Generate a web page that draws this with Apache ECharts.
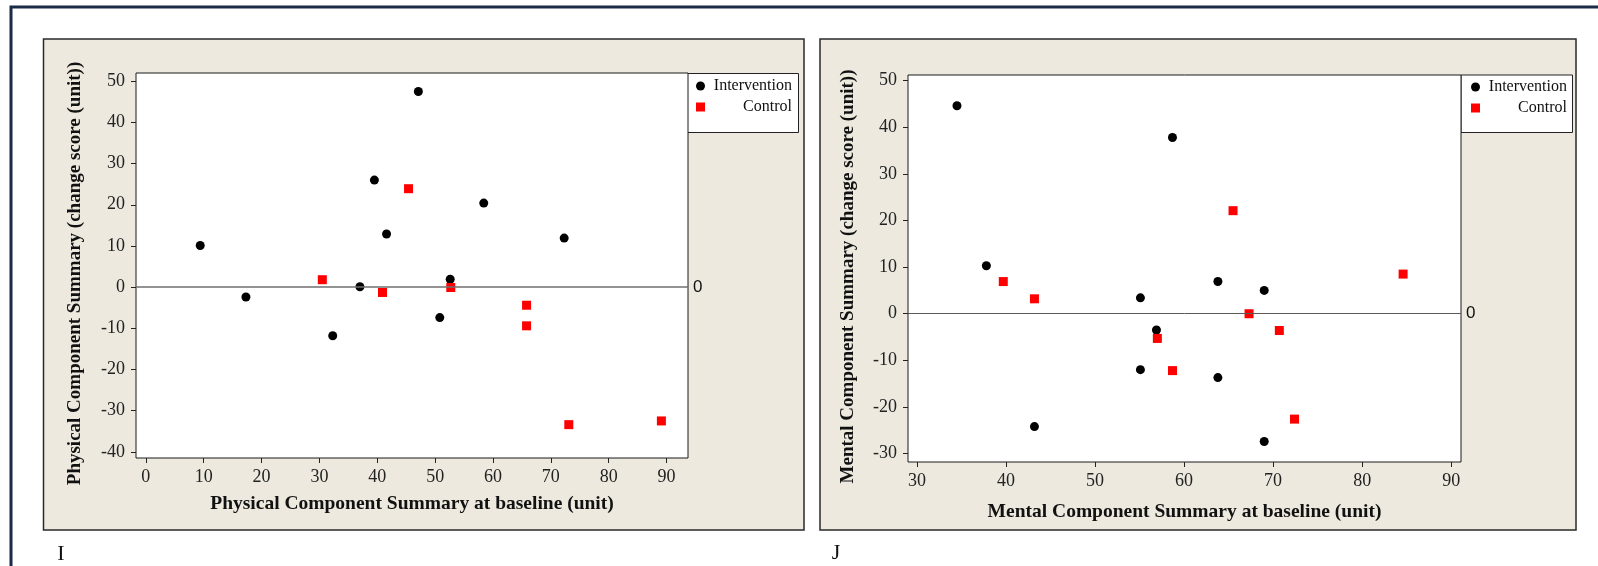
<!DOCTYPE html>
<html>
<head>
<meta charset="utf-8">
<script src="https://cdn.jsdelivr.net/npm/echarts@6/dist/echarts.min.js"></script>
<style>
html,body{margin:0;padding:0;background:#fff;}
#chart{width:1598px;height:566px;}
</style>
</head>
<body>
<div id="chart"></div>
<script>
// ---- Data ----
const seriesNames = ['Intervention', 'Control'];

// Panel I: Physical Component Summary
const physIntX = [9.4, 17.3, 32.3, 37.0, 39.5, 41.6, 47.1, 50.8, 52.6, 58.4, 72.3];
const physIntY = [10.1, -2.4, -11.8, 0.1, 26.0, 12.9, 47.5, -7.4, 1.9, 20.4, 11.9];
const physCtlX = [30.5, 40.9, 45.4, 52.7, 65.8, 65.8, 73.1, 89.1];
const physCtlY = [1.8, -1.3, 23.9, -0.1, -4.4, -9.4, -33.4, -32.5];

// Panel J: Mental Component Summary
const mentIntX = [34.5, 37.8, 43.2, 55.1, 55.1, 56.9, 58.7, 63.8, 63.8, 69.0, 69.0];
const mentIntY = [44.6, 10.3, -24.2, 3.4, -12.0, -3.5, 37.8, 6.9, -13.7, 5.0, -27.4];
const mentCtlX = [39.7, 43.2, 57.0, 58.7, 65.5, 67.3, 70.7, 72.4, 84.6];
const mentCtlY = [6.9, 3.2, -5.3, -12.2, 22.1, 0.0, -3.6, -22.6, 8.5];

// Tick labels
const physXTicks = [0, 10, 20, 30, 40, 50, 60, 70, 80, 90];
const physYTicks = [-40, -30, -20, -10, 0, 10, 20, 30, 40, 50];
const mentXTicks = [30, 40, 50, 60, 70, 80, 90];
const mentYTicks = [-30, -20, -10, 0, 10, 20, 30, 40, 50];

// Axis ranges
const physXRange = [-1.7, 93.7];
const physYRange = [-41.5, 52.0];
const mentXRange = [29.0, 91.1];
const mentYRange = [-31.8, 51.2];

// Titles
const physXTitle = 'Physical Component Summary at baseline (unit)';
const physYTitle = 'Physical Component Summary (change score (unit))';
const mentXTitle = 'Mental Component Summary at baseline (unit)';
const mentYTitle = 'Mental Component Summary (change score (unit))';
const panelLabels = ['I', 'J'];
const refValue = 0;

// ---- helpers ----
const SERIF = '"Liberation Serif", "Times New Roman", serif';
const SANS = '"Liberation Sans", Arial, sans-serif';
function zip(xs, ys) { return xs.map((x, i) => [x, ys[i]]); }

function xAxisCfg(idx, range, ticks, title, gap, margin) {
  return {
    type: 'value', gridIndex: idx, min: range[0], max: range[1],
    axisLine: { show: false, onZero: false },
    splitLine: { show: false },
    axisTick: { show: true, length: 5, customValues: ticks, lineStyle: { color: '#222', width: 1 } },
    axisLabel: { customValues: ticks, margin: margin, fontFamily: SERIF, fontSize: 18, color: '#222' },
    name: title, nameLocation: 'middle', nameGap: gap,
    nameTextStyle: { fontFamily: SERIF, fontWeight: 'bold', fontSize: 19.5, color: '#111' }
  };
}
function yAxisCfg(idx, range, ticks, title, gap) {
  return {
    type: 'value', gridIndex: idx, min: range[0], max: range[1],
    axisLine: { show: false, onZero: false },
    splitLine: { show: false },
    axisTick: { show: true, length: 5, customValues: ticks, lineStyle: { color: '#222', width: 1 } },
    axisLabel: { customValues: ticks, margin: 11, fontFamily: SERIF, fontSize: 18, color: '#222' },
    name: title, nameLocation: 'middle', nameGap: gap,
    nameTextStyle: { fontFamily: SERIF, fontWeight: 'bold', fontSize: 19, color: '#111', padding: [0, 16, 0, 0] }
  };
}
function legendCfg(left, top) {
  return {
    orient: 'vertical', left: left, top: top, padding: 0,
    itemWidth: 9, itemHeight: 9, itemGap: 5, selectedMode: false,
    data: [{ name: seriesNames[0], icon: 'circle' }, { name: seriesNames[1], icon: 'rect' }],
    formatter: n => '{t|' + n + '}',
    textStyle: {
      color: '#111', fontFamily: SERIF, fontSize: 16, lineHeight: 16,
      rich: { t: { width: 82, align: 'right', fontFamily: SERIF, fontSize: 16, lineHeight: 16, color: '#111' } }
    }
  };
}
function refLine(color, width) {
  return {
    silent: true, symbol: 'none', animation: false,
    lineStyle: { color: color, width: width, type: 'solid' },
    label: { show: true, position: 'end', distance: 5, formatter: String(refValue), fontFamily: SANS, fontSize: 17, color: '#111' },
    data: [{ yAxis: refValue }]
  };
}

const chart = echarts.init(document.getElementById('chart'), null, { renderer: 'canvas' });
const option = {
  backgroundColor: '#ffffff',
  animation: false,
  graphic: {
    elements: [
      { type: 'rect', z: -10, shape: { x: 11, y: 7, width: 1700, height: 700 },
        style: { fill: 'none', stroke: '#1b2a47', lineWidth: 3 } },
      { type: 'rect', z: -9, shape: { x: 43.5, y: 39, width: 760.5, height: 491 },
        style: { fill: '#EDE9DF', stroke: '#2a2a2a', lineWidth: 1.5 } },
      { type: 'rect', z: -9, shape: { x: 820, y: 39, width: 756, height: 491 },
        style: { fill: '#EDE9DF', stroke: '#2a2a2a', lineWidth: 1.5 } },
      { type: 'rect', z: -8, shape: { x: 687.5, y: 73.5, width: 111, height: 59 },
        style: { fill: '#fff', stroke: '#222', lineWidth: 1 } },
      { type: 'rect', z: -8, shape: { x: 1461, y: 75, width: 111.5, height: 57.5 },
        style: { fill: '#fff', stroke: '#222', lineWidth: 1 } },
      { type: 'text', x: 61, y: 554, style: { text: panelLabels[0], fontFamily: SERIF, fontSize: 22, fill: '#111', align: 'center', verticalAlign: 'middle' } },
      { type: 'text', x: 836, y: 553, style: { text: panelLabels[1], fontFamily: SERIF, fontSize: 22, fill: '#111', align: 'center', verticalAlign: 'middle' } }
    ]
  },
  grid: [
    { left: 136, top: 73, width: 552, height: 385, show: true, backgroundColor: '#fff', borderColor: '#1a1a1a', borderWidth: 1, containLabel: false },
    { left: 908, top: 75, width: 553, height: 387, show: true, backgroundColor: '#fff', borderColor: '#1a1a1a', borderWidth: 1, containLabel: false }
  ],
  xAxis: [
    xAxisCfg(0, physXRange, physXTicks, physXTitle, 36, 10),
    xAxisCfg(1, mentXRange, mentXTicks, mentXTitle, 40, 10)
  ],
  yAxis: [
    yAxisCfg(0, physYRange, physYTicks, physYTitle, 51),
    yAxisCfg(1, mentYRange, mentYTicks, mentYTitle, 50)
  ],
  legend: [legendCfg(696, 78), legendCfg(1471, 79)],
  series: [
    { type: 'scatter', name: seriesNames[0], xAxisIndex: 0, yAxisIndex: 0, symbol: 'circle', symbolSize: 9,
      itemStyle: { color: '#000', opacity: 1 }, data: zip(physIntX, physIntY), z: 3,
      markLine: refLine('#6f6f6f', 1.5) },
    { type: 'scatter', name: seriesNames[1], xAxisIndex: 0, yAxisIndex: 0, symbol: 'rect', symbolSize: 9,
      itemStyle: { color: '#ff0000', opacity: 1 }, data: zip(physCtlX, physCtlY), z: 3 },
    { type: 'scatter', name: seriesNames[0], xAxisIndex: 1, yAxisIndex: 1, symbol: 'circle', symbolSize: 9,
      itemStyle: { color: '#000', opacity: 1 }, data: zip(mentIntX, mentIntY), z: 3,
      markLine: refLine('#5a5a5a', 1) },
    { type: 'scatter', name: seriesNames[1], xAxisIndex: 1, yAxisIndex: 1, symbol: 'rect', symbolSize: 9,
      itemStyle: { color: '#ff0000', opacity: 1 }, data: zip(mentCtlX, mentCtlY), z: 3 }
  ]
};
chart.setOption(option);
</script>
</body>
</html>
